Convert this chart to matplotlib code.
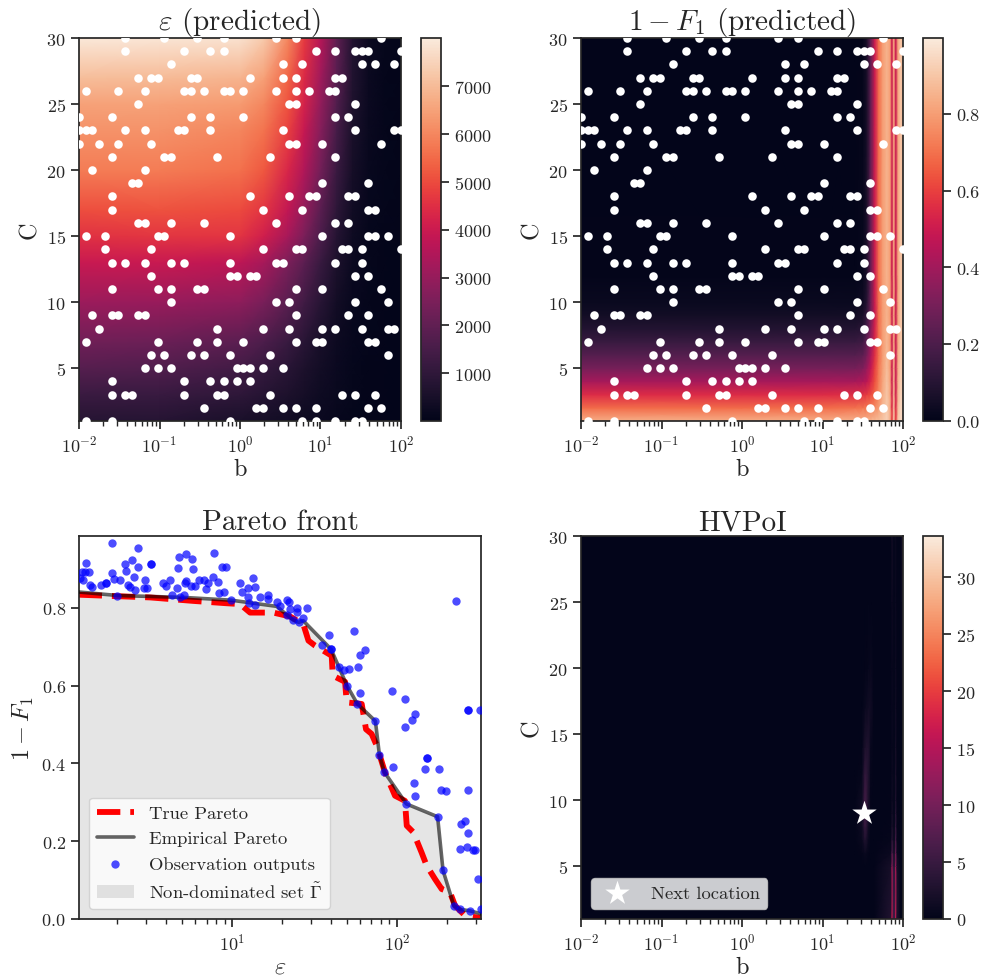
#!/usr/bin/env python3
"""Predicted maps, Pareto front and HVPoI acquisition map (values read from the picture)."""

import numpy as np
import matplotlib
matplotlib.use('Agg')
import matplotlib.pyplot as plt
import seaborn as sns

# observed grid locations: column index on the 50 point log b grid, one list per C
obs_cols = {
    30: [7, 13, 18, 22, 30, 33, 46],
    29: [7, 16, 20, 22, 36, 39, 42, 43, 44, 49],
    28: [14, 31, 34, 43, 45, 48],
    27: [9, 11, 12, 17, 18, 26, 31, 33, 39, 40],
    26: [1, 6, 10, 16, 17, 19, 22, 23, 25, 30, 33, 35, 38, 39],
    25: [9, 32, 33, 42],
    24: [0, 5, 17, 20, 25, 39, 41],
    23: [0, 1, 2, 7, 10, 15, 16, 20, 31, 42, 48, 49],
    22: [0, 3, 6, 11, 32, 33, 37, 46],
    21: [5, 13, 14, 21, 29, 39],
    20: [2, 10],
    19: [8, 9, 37, 44],
    18: [5, 26, 32, 35, 36, 41, 42],
    17: [5, 28, 34, 44, 45],
    16: [9, 10, 14, 19, 30, 39, 41],
    15: [1, 4, 12, 13, 23, 37, 44, 45, 47],
    14: [4, 11, 28, 33, 34, 40, 41, 43, 49],
    13: [5, 7, 10, 14, 16, 23, 30, 31, 39, 43],
    12: [11, 23, 24, 26, 27, 42, 44],
    11: [5, 12, 14, 18, 19, 33, 37, 46],
    10: [14, 30, 32, 42, 47],
    9: [2, 5, 6, 9, 10, 33, 41, 44],
    8: [3, 21, 28, 32, 37, 39, 43, 47, 48],
    7: [1, 12, 18, 21, 25, 33, 36, 37, 44, 45],
    6: [11, 13, 17, 19, 23, 29, 47],
    5: [10, 12, 14, 24, 25, 26, 28, 31],
    4: [5, 16, 20, 22, 24, 26],
    3: [5, 7, 8, 16, 21, 22, 29, 40, 42, 45],
    2: [19, 27, 28, 31, 33, 36, 44, 46],
    1: [1, 5, 23, 34, 36, 39, 42, 43],
}

# epsilon map, rows follow eps_c, columns follow eps_logb
eps_logb = [-2, -1, 0, 0.3, 0.6, 0.8, 1.0, 1.2, 1.4, 1.6, 1.8, 2.0]
eps_c = [1, 3, 5, 7, 10, 13, 15, 17, 20, 23, 25, 27, 30]
eps_values = [
    [800, 800, 550, 450, 350, 280, 220, 150, 90, 60, 40, 30],
    [1250, 1200, 1000, 800, 600, 450, 300, 190, 100, 60, 40, 30],
    [1800, 1700, 1400, 1150, 850, 600, 380, 220, 110, 60, 40, 30],
    [2300, 2200, 1900, 1600, 1200, 850, 520, 260, 130, 70, 40, 30],
    [3100, 3050, 2850, 2450, 1850, 1350, 850, 400, 180, 80, 50, 30],
    [3950, 3950, 3750, 3300, 2500, 1900, 1200, 600, 240, 100, 50, 30],
    [4550, 4650, 4600, 4100, 3300, 2500, 1600, 800, 300, 120, 60, 40],
    [5050, 5100, 5000, 4600, 3800, 2950, 1900, 950, 350, 140, 70, 40],
    [5800, 5800, 5600, 5200, 4300, 3500, 2350, 1250, 450, 160, 80, 50],
    [6200, 6200, 6000, 5650, 4800, 3900, 2700, 1500, 550, 190, 80, 50],
    [6500, 6500, 6350, 6000, 5100, 4200, 2950, 1700, 650, 220, 90, 60],
    [7050, 7000, 6850, 6450, 5400, 4400, 3200, 1850, 700, 240, 90, 60],
    [7950, 7900, 7800, 7300, 6000, 4700, 3600, 2000, 750, 250, 100, 70],
]

# 1 - F1 map
f1_logb = [-2, 0, 1, 1.4, 1.5, 1.55, 1.6, 1.65, 1.7, 1.75, 1.8, 1.84, 1.865, 1.885, 1.91, 1.94, 1.97, 2.0]
f1_c = [1, 2, 3, 4, 5, 6, 7, 8, 9, 10, 12, 30]
f1_values = [
    [.84, .84, .84, .85, .85, .85, .86, .87, .88, .90, .93, .85, .60, .90, .60, .90, .95, .95],
    [.69, .69, .69, .70, .71, .72, .74, .76, .80, .86, .91, .84, .55, .88, .55, .88, .94, .94],
    [.55, .55, .55, .56, .57, .59, .62, .68, .76, .84, .90, .83, .52, .86, .52, .86, .93, .93],
    [.41, .41, .41, .41, .43, .46, .54, .63, .73, .82, .89, .82, .50, .85, .50, .85, .92, .92],
    [.30, .30, .30, .30, .32, .38, .48, .60, .72, .81, .88, .81, .50, .84, .50, .84, .91, .91],
    [.22, .22, .22, .22, .24, .30, .42, .56, .70, .80, .87, .80, .50, .84, .50, .84, .90, .90],
    [.15, .15, .15, .15, .17, .25, .38, .54, .70, .80, .86, .80, .50, .83, .50, .83, .90, .90],
    [.09, .09, .09, .09, .11, .20, .34, .52, .70, .80, .86, .80, .50, .83, .50, .83, .90, .90],
    [.05, .05, .05, .05, .07, .14, .30, .50, .70, .80, .85, .80, .50, .82, .50, .82, .90, .90],
    [.025, .025, .025, .025, .04, .10, .28, .50, .70, .80, .85, .80, .50, .82, .50, .82, .90, .88],
    [.005, .005, .005, .005, .02, .07, .26, .50, .70, .80, .85, .80, .50, .82, .50, .82, .90, .88],
    [0, 0, 0, 0, .01, .06, .25, .50, .70, .80, .85, .80, .50, .82, .50, .82, .90, .88],
]

# HVPoI map
hv_logb = [-2, 1.4, 1.49, 1.53, 1.57, 1.6, 1.64, 1.85, 1.867, 1.88, 1.9, 1.913, 1.926, 1.97, 1.985, 2.0]
hv_c = [1, 5, 6, 7, 8, 9, 10, 12, 14, 17, 20, 25, 30]
hv_values = [
    [0, 0, 0, 0, 0, 0, 0, 3, 17, 6, 6, 17, 3, 0, 0.5, 0],
    [0, 0, 0, 0, 0, 0, 0, 2, 13, 4, 4, 14, 2, 0, 0.5, 0],
    [0, 0, 0.3, 0.8, 0.3, 0, 0, 1, 8, 2.5, 2.5, 10, 1, 0, 0.5, 0],
    [0, 0, 0.8, 3, 1, 0, 0, 0.5, 4, 1.2, 1.2, 7, 0.5, 0, 0.5, 0],
    [0, 0, 1.2, 5, 1.5, 0, 0, 0.3, 2.5, 0.8, 0.8, 5, 0.3, 0, 0.5, 0],
    [0, 0, 1.5, 6, 2, 0.2, 0, 0.2, 2, 0.6, 0.6, 4, 0.3, 0, 0.5, 0],
    [0, 0, 1.2, 6, 2.5, 0.3, 0, 0.2, 1.5, 0.5, 0.5, 3, 0.2, 0, 0.5, 0],
    [0, 0, 0.5, 4.5, 3, 0.5, 0, 0, 1.2, 0.4, 0.4, 2.5, 0.2, 0, 0.5, 0.2],
    [0, 0, 0.2, 2.5, 3, 0.7, 0, 0, 1, 0.3, 0.3, 2, 0.2, 0, 0.5, 0.2],
    [0, 0, 0, 0.8, 1.5, 1.5, 0, 0, 1, 0.3, 0.3, 1.5, 0.2, 0, 0.6, 0.3],
    [0, 0, 0, 0.2, 0.5, 0.8, 0, 0, 1, 0.3, 0.3, 1.2, 0.2, 0, 0.8, 0.5],
    [0, 0, 0, 0, 0, 0.1, 0, 0, 1.2, 0.3, 0.3, 1, 0.2, 0, 1, 1],
    [0, 0, 0, 0, 0, 0, 0, 0, 2, 0.5, 0.5, 1, 0.2, 0, 1.5, 2],
]
next_logb = 1.51
next_c = 9

# Pareto panel, epsilon kept as log10
true_log_eps = [0.07, 0.503, 0.766, 0.968, 1.048, 1.109, 1.25, 1.352, 1.432, 1.463, 1.503, 1.604, 1.61, 1.685,
                1.695, 1.786, 1.812, 1.846, 1.877, 1.927, 1.988, 2.048, 2.059, 2.099, 2.149, 2.18, 2.23, 2.271,
                2.321, 2.352, 2.412, 2.513]
true_f1 = [0.834, 0.827, 0.818, 0.812, 0.81, 0.788, 0.788, 0.778, 0.758, 0.716, 0.703, 0.677, 0.626, 0.61,
           0.557, 0.553, 0.488, 0.476, 0.446, 0.377, 0.317, 0.304, 0.24, 0.223, 0.171, 0.137, 0.103, 0.077,
           0.069, 0.034, 0.009, 0.002]

emp_log_eps = [0.07, 0.305, 0.709, 0.994, 1.271, 1.37, 1.404, 1.432, 1.6, 1.697, 1.76, 1.869, 1.893, 1.923,
               2.057, 2.246, 2.279, 2.345, 2.38, 2.442, 2.513]
emp_f1 = [0.841, 0.832, 0.827, 0.82, 0.804, 0.769, 0.763, 0.767, 0.694, 0.6, 0.553, 0.509, 0.423, 0.378,
          0.296, 0.263, 0.125, 0.034, 0.025, 0.021, 0.013]

obs_log_eps = [
    0.269, 0.432, 0.677, 0.719, 0.758, 0.891, 0.113, 0.349, 0.396, 0.509, 0.509, 0.43, 0.675, 0.762, 0.941, 0.966,
    0.354, 0.273, 0.089, 0.133, 0.109, 0.408, 0.285, 0.321, 0.099, 0.075, 0.475, 0.624, 0.584, 0.6, 0.721, 0.715,
    0.802, 0.832, 0.857, 0.883, 0.915, 0.234, 0.234, 0.208, 0.141, 0.152, 0.37, 0.38, 0.41, 0.463, 0.485, 0.667,
    0.749, 0.774, 0.842, 0.923, 0.954, 0.305, 0.638, 0.685, 0.709, 0.994, 1.051, 1.059, 1.095, 1.129, 1.141,
    1.099, 1.105, 1.139, 1.17, 1.216, 1.216, 1.273, 1.289, 1.333, 1.345, 1.352, 1.331, 1.37, 1.396, 1.404,
    1.396, 1.457, 1.432, 1.588, 1.741, 1.543, 1.6, 1.6, 1.808, 1.776, 1.651, 1.681, 1.711, 1.764, 1.697, 1.776,
    1.97, 2.051, 1.76, 2.358, 2.107, 2.091, 2.428, 2.428, 2.503, 1.869, 2.051, 1.893, 1.923, 1.974, 2.184, 2.184,
    2.168, 2.255, 2.105, 2.111, 2.269, 2.297, 2.43, 2.057, 2.246, 2.39, 2.412, 2.432, 2.384, 2.426, 2.459,
    2.473, 2.279, 2.491, 2.345, 2.38, 2.442, 2.509,
]
obs_f1 = [
    0.966, 0.953, 0.932, 0.938, 0.926, 0.942, 0.915, 0.913, 0.924, 0.913, 0.913, 0.906, 0.903, 0.901, 0.905, 0.904,
    0.895, 0.891, 0.893, 0.893, 0.893, 0.879, 0.874, 0.871, 0.873, 0.876, 0.871, 0.871, 0.864, 0.857, 0.87, 0.863,
    0.871, 0.872, 0.865, 0.88, 0.866, 0.864, 0.864, 0.859, 0.859, 0.854, 0.859, 0.854, 0.845, 0.852, 0.851, 0.851,
    0.856, 0.856, 0.848, 0.838, 0.841, 0.831, 0.834, 0.827, 0.834, 0.82, 0.863, 0.841, 0.851, 0.877, 0.854,
    0.829, 0.812, 0.807, 0.829, 0.833, 0.823, 0.814, 0.804, 0.821, 0.814, 0.797, 0.783, 0.769, 0.799, 0.763,
    0.79, 0.801, 0.773, 0.731, 0.74, 0.705, 0.694, 0.694, 0.692, 0.68, 0.648, 0.641, 0.644, 0.648, 0.6, 0.582,
    0.586, 0.566, 0.553, 0.818, 0.526, 0.513, 0.538, 0.538, 0.538, 0.509, 0.493, 0.423, 0.378, 0.392, 0.413, 0.413,
    0.386, 0.386, 0.35, 0.316, 0.333, 0.328, 0.333, 0.296, 0.263, 0.244, 0.251, 0.222, 0.179, 0.184, 0.177,
    0.177, 0.125, 0.104, 0.034, 0.025, 0.021, 0.026,
]

FIG_W = 984
FIG_H = 978


def px_axes(fig, left, top, right, bottom):
    # axes from pixel edges of the target image
    return fig.add_axes([left / FIG_W, 1 - bottom / FIG_H, (right - left) / FIG_W, (bottom - top) / FIG_H])


def draw_map(fig, box, logb, c, values, title, vmax, cbar_ticks, cbar_fmt=None):
    left, top, right, bottom = box
    ax = px_axes(fig, left, top, right, bottom)
    cax = px_axes(fig, right + 20, top, right + 40, bottom)
    mesh = ax.pcolormesh(10.0 ** np.array(logb), c, np.array(values, dtype=float), shading='gouraud',
                         cmap=sns.color_palette('rocket', as_cmap=True), vmin=0, vmax=vmax, rasterized=True)
    ax.set_xscale('log')
    ax.set_xlim(1e-2, 1e2)
    ax.set_ylim(1, 30)
    ax.set_yticks([5, 10, 15, 20, 25, 30])
    ax.set_xlabel('b', labelpad=2)
    ax.set_ylabel('C', labelpad=4)
    ax.set_title(title, pad=5)
    cbar = fig.colorbar(mesh, cax=cax, format=cbar_fmt)
    cbar.set_ticks(cbar_ticks)
    return ax


def draw_obs(ax):
    b_grid = np.logspace(-2, 2, 50)
    xs = []
    ys = []
    for c, cols in obs_cols.items():
        for col in cols:
            xs.append(b_grid[col])
            ys.append(c)
    ax.scatter(xs, ys, s=38, color='white', linewidths=0, zorder=3)


def draw_pareto(fig, box):
    ax = px_axes(fig, *box)
    ax.plot(10.0 ** np.array(true_log_eps), true_f1, color='red', dashes=(4, 1.7), lw=4.2, label='True Pareto',
            zorder=2)
    ax.plot(10.0 ** np.array(emp_log_eps), emp_f1, color='k', lw=2.6, alpha=0.6, label='Empirical Pareto', zorder=3)
    ax.scatter(10.0 ** np.array(obs_log_eps), obs_f1, s=36, color='blue', alpha=0.7, linewidths=0,
               label='Observation outputs', zorder=4)
    ax.fill_between(10.0 ** np.array(emp_log_eps), emp_f1, color='gray', alpha=0.2, linewidth=0,
                    label=r'Non-dominated set $\tilde{\Gamma}$', zorder=1)
    ax.set_xscale('log')
    ax.set_xlim(1.18, 323)
    ax.set_ylim(0, 0.985)
    ax.set_yticks([0, 0.2, 0.4, 0.6, 0.8])
    ax.set_xlabel(r'$\varepsilon$', labelpad=2)
    ax.set_ylabel(r'$1-F_1$', labelpad=4)
    ax.set_title('Pareto front', pad=5)
    ax.legend(loc='lower left', fontsize=13.4, handlelength=2, borderaxespad=0.55)


def main():
    sns.set_style('ticks')
    plt.rcParams['font.family'] = ['cmr10', 'DejaVu Sans']
    plt.rcParams['mathtext.fontset'] = 'cm'
    plt.rcParams['axes.formatter.use_mathtext'] = True
    plt.rcParams['axes.unicode_minus'] = False
    plt.rcParams['font.size'] = 13
    plt.rcParams['axes.titlesize'] = 21
    plt.rcParams['axes.labelsize'] = 17.5
    plt.rcParams['xtick.labelsize'] = 13
    plt.rcParams['ytick.labelsize'] = 13
    plt.rcParams['axes.linewidth'] = 1.25
    plt.rcParams['xtick.major.size'] = 6
    plt.rcParams['ytick.major.size'] = 6
    plt.rcParams['xtick.minor.size'] = 3.5
    plt.rcParams['xtick.major.width'] = 1.25
    plt.rcParams['ytick.major.width'] = 1.25
    plt.rcParams['xtick.minor.width'] = 1.0

    fig = plt.figure(figsize=(FIG_W / 100, FIG_H / 100), dpi=100)

    ax_eps = draw_map(fig, (79, 39, 401, 422), eps_logb, eps_c, eps_values, r'$\varepsilon$ (predicted)', 8007,
                      [1000, 2000, 3000, 4000, 5000, 6000, 7000])
    draw_obs(ax_eps)

    ax_f1 = draw_map(fig, (581, 39, 903, 422), f1_logb, f1_c, f1_values, r'$1-F_1$ (predicted)', 0.998,
                     [0, 0.2, 0.4, 0.6, 0.8], '%.1f')
    draw_obs(ax_f1)

    draw_pareto(fig, (79, 537, 481, 920))

    ax_hv = draw_map(fig, (581, 537, 903, 920), hv_logb, hv_c, hv_values, 'HVPoI', 33.6,
                     [0, 5, 10, 15, 20, 25, 30])
    ax_hv.scatter([10.0 ** next_logb], [next_c], marker='*', s=340, color='white', linewidths=0,
                  label='Next location', zorder=3)
    ax_hv.legend(loc='lower left', fontsize=13.4, handlelength=2, borderaxespad=0.55)

    plt.savefig('out.png', dpi=100)
    plt.close()


if __name__ == "__main__":
    main()
